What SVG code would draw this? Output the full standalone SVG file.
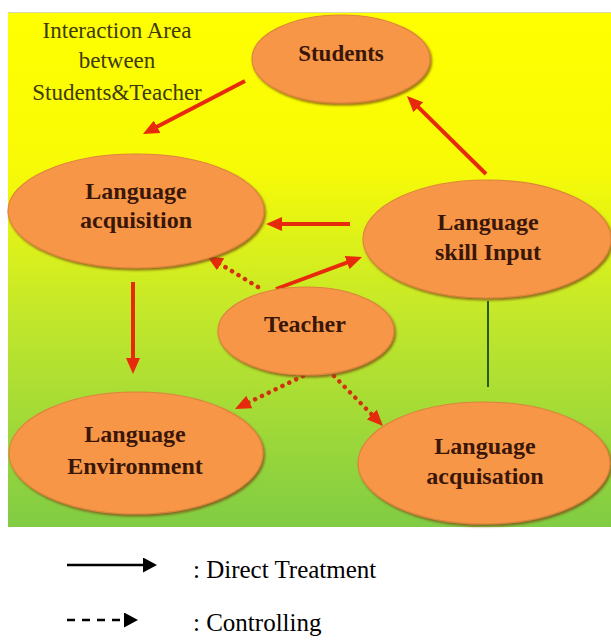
<svg xmlns="http://www.w3.org/2000/svg" width="611" height="642" viewBox="0 0 611 642">
<style>
.node{fill:#f79646;stroke:#e0843e;stroke-width:1.2;filter:url(#sh)}
.lbl{font-family:"Liberation Serif","Times New Roman",serif;font-weight:bold;font-size:24px;fill:#3a1608;text-anchor:middle}
.area{font-family:"Liberation Serif","Times New Roman",serif;font-size:23px;fill:#3e3a0c;text-anchor:middle}
.direct{fill:none;stroke:#e82a0c;stroke-width:4;marker-end:url(#ah)}
.ctrl{fill:none;stroke:#d5300e;stroke-width:4.5;stroke-linecap:round;stroke-dasharray:0.1 7.5;marker-end:url(#ah)}
.legtxt{font-family:"Liberation Serif","Times New Roman",serif;font-size:25px;fill:#000}
</style>
<defs>
<linearGradient id="bg" x1="0" y1="0" x2="0" y2="1">
<stop offset="0" stop-color="#ffff00"/>
<stop offset="0.3" stop-color="#f8fb06"/>
<stop offset="0.58" stop-color="#c4e82a"/>
<stop offset="1" stop-color="#80cc44"/>
</linearGradient>
<filter id="sh" x="-10%" y="-10%" width="125%" height="130%">
<feDropShadow dx="1.5" dy="2" stdDeviation="1.2" flood-color="#7a4a10" flood-opacity="0.75"/>
</filter>
<marker id="ah" viewBox="0 0 16 14" refX="4" refY="7" markerWidth="16" markerHeight="14" markerUnits="userSpaceOnUse" orient="auto">
<path d="M0,0 L16,7 L0,14 z" fill="#e82a0c"/>
</marker>
<marker id="ahk" viewBox="0 0 14 15" refX="2" refY="7.5" markerWidth="14" markerHeight="15" markerUnits="userSpaceOnUse" orient="auto">
<path d="M0,0 L14,7.5 L0,15 z" fill="#000"/>
</marker>
</defs>
<rect x="0" y="0" width="611" height="642" fill="#fff"/>
<rect x="8" y="12" width="603" height="515" fill="url(#bg)"/>
<line x1="8" y1="12.5" x2="611" y2="12.5" stroke="#d8d8b0" stroke-width="1"/>

<g id="area-label">
<text class="area" x="117" y="38">Interaction Area</text>
<text class="area" x="117" y="68">between</text>
<text class="area" x="117" y="100">Students&amp;Teacher</text>
</g>

<g id="connectors">
<path class="direct" d="M245,81 L153.6,128.5"/>
<path class="direct" d="M486,174 L415.5,104.4"/>
<path class="direct" d="M350,224 L278,224"/>
<path class="direct" d="M276,289 L350.8,261.2"/>
<path class="ctrl" d="M258,287 L217.2,262.2"/>
<path class="direct" d="M133,282 L133,362"/>
<path class="ctrl" d="M303,376 L245.8,403.8"/>
<path class="ctrl" d="M334,376 L374.6,417.4"/>
<line x1="488" y1="301" x2="488" y2="387" stroke="#2a5a10" stroke-width="2"/>
</g>

<g id="students">
<ellipse class="node" cx="341" cy="59" rx="89" ry="44"/>
<text class="lbl" x="341" y="61" style="font-size:23px">Students</text>
</g>
<g id="language-acquisition">
<ellipse class="node" cx="136" cy="211" rx="128" ry="57"/>
<text class="lbl" x="136" y="199">Language</text>
<text class="lbl" x="136" y="228">acquisition</text>
</g>
<g id="language-skill-input">
<ellipse class="node" cx="487" cy="239" rx="124" ry="59"/>
<text class="lbl" x="488" y="230">Language</text>
<text class="lbl" x="488" y="260">skill Input</text>
</g>
<g id="teacher">
<ellipse class="node" cx="306" cy="331" rx="88" ry="44"/>
<text class="lbl" x="305" y="332">Teacher</text>
</g>
<g id="language-environment">
<ellipse class="node" cx="136" cy="453" rx="127" ry="61"/>
<text class="lbl" x="135" y="442">Language</text>
<text class="lbl" x="135" y="474">Environment</text>
</g>
<g id="language-acquisation">
<ellipse class="node" cx="484" cy="463" rx="126" ry="61"/>
<text class="lbl" x="485" y="454">Language</text>
<text class="lbl" x="485" y="484">acquisation</text>
</g>

<g id="legend">
<line x1="67" y1="565" x2="145" y2="565" stroke="#000" stroke-width="2.5" marker-end="url(#ahk)"/>
<text class="legtxt" x="193" y="578">: Direct Treatment</text>
<line x1="67" y1="620" x2="126" y2="620" stroke="#000" stroke-width="2.5" stroke-dasharray="8 7" marker-end="url(#ahk)"/>
<text class="legtxt" x="193" y="631">: Controlling</text>
</g>
</svg>
